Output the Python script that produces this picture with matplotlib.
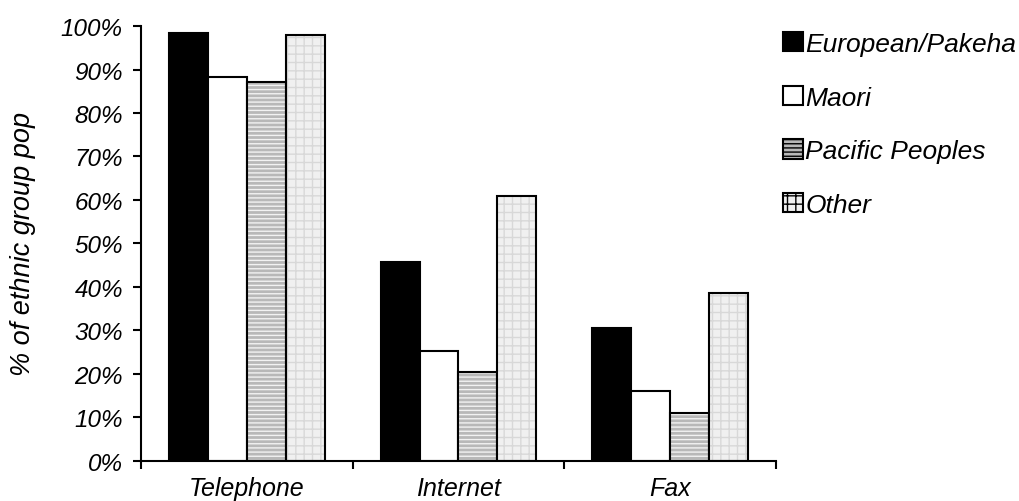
import numpy as np
import matplotlib
matplotlib.use('Agg')
import matplotlib.pyplot as plt
from matplotlib.patches import Patch

plt.rcParams['font.family'] = ['Liberation Sans', 'DejaVu Sans']
plt.rcParams['font.style'] = 'italic'
plt.rcParams['hatch.linewidth'] = 1.0

categories = ['Telephone', 'Internet', 'Fax']
groups = ['European/Pakeha', 'Maori', 'Pacific Peoples', 'Other']
european = [98.3, 45.8, 30.5]
maori = [88.4, 25.2, 16.0]
pacific = [87.2, 20.5, 11.0]
other = [98.0, 60.9, 38.6]
series = [european, maori, pacific, other]

# fill, hatch, hatch colour for each series
styles = [('black', None, 'black'),
          ('white', None, 'white'),
          ('#b8b8b8', '----', '#f2f2f2'),
          ('#f0f0f0', '++', '#d8d8d8')]

fig = plt.figure(figsize=(10.19, 5.02), dpi=100)
ax = fig.add_axes([0.1384, 0.0803, 0.6231, 0.8657])

x = np.arange(len(categories))
w = 0.184
handles = []
for i, (vals, (fc, hatch, hc)) in enumerate(zip(series, styles)):
    pos = x + (i - 1.5) * w
    if hatch:
        ax.bar(pos, vals, w, color=fc, hatch=hatch, edgecolor=hc, linewidth=0)
    ax.bar(pos, vals, w, facecolor=fc if not hatch else 'none', edgecolor='black', linewidth=1.5)
    handles.append(Patch(facecolor=fc, hatch=hatch, edgecolor='black', linewidth=1.5, label=groups[i]))

ax.set_xlim(-0.5, 2.5)
ax.set_ylim(0, 100)
ax.set_yticks(np.arange(0, 101, 10))
ax.set_yticklabels([f'{v}%' for v in range(0, 101, 10)])
ax.set_xticks(x)
ax.set_xticklabels(categories)
ax.set_xticks([-0.5, 0.5, 1.5, 2.5], minor=True)
ax.tick_params(axis='x', which='major', length=0, pad=11, labelsize=18)
ax.tick_params(axis='x', which='minor', length=6, width=1.5, direction='out')
ax.tick_params(axis='y', length=6, width=1.5, direction='out', labelsize=17.5, pad=7)
for s in ['top', 'right']:
    ax.spines[s].set_visible(False)
for s in ['left', 'bottom']:
    ax.spines[s].set_linewidth(1.5)

ax.set_ylabel('% of ethnic group pop', fontsize=19.5)
ax.yaxis.set_label_coords(-0.166, 0.5)

fig.legend(handles=handles, loc='upper left', bbox_to_anchor=(0.750, 0.971),
           frameon=False, fontsize=19, handlelength=0.75, handleheight=0.75,
           handletextpad=0.1, labelspacing=1.12, borderpad=0.2)

fig.savefig('out.png', dpi=100)
